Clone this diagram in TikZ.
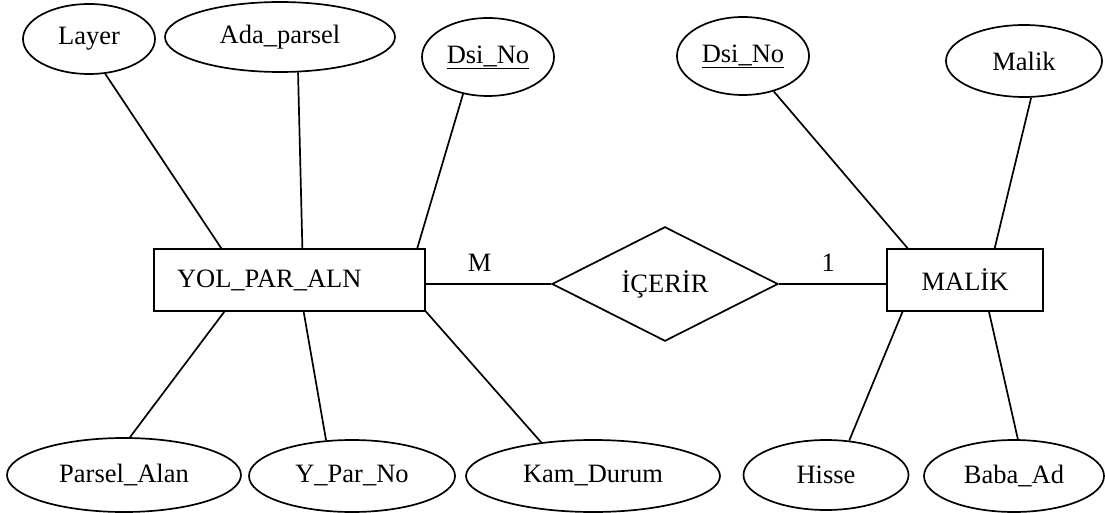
\documentclass[tikz,border=0pt]{standalone}
\usepackage{fontspec}
\setmainfont{Liberation Serif}
\usetikzlibrary{shapes.geometric}

\begin{document}
\begin{tikzpicture}[x=1pt, y=-1pt, line width=1.7pt,
        font=\fontsize{26.5}{30}\selectfont,
        attr/.style={ellipse, draw, inner sep=0pt},
        entity/.style={rectangle, draw, inner sep=0pt},
        rel/.style={diamond, draw, inner sep=0pt},
        card/.style={inner sep=0pt, above=12pt}]
        \useasboundingbox (0,0) rectangle (1105,513);

        % Entities and the relation between them:
        \node [entity, minimum width=271pt, minimum height=62pt,
               text width=225pt, align=left, inner xsep=23pt] (yol) at (289.5,280) {YOL\_PAR\_ALN};
        \node [entity, minimum width=156pt, minimum height=62pt] (malikbox) at (965,280) {MALİK};
        \node [rel, minimum width=226pt, minimum height=89pt] (icerir) at (665,284) {İÇERİR};

        % Attributes of YOL_PAR_ALN:
        \node [attr, minimum width=132pt, minimum height=70pt] (layer) at (89,39) {Layer};
        \node [attr, minimum width=230pt, minimum height=70pt] (ada) at (280,37) {Ada\_parsel};
        \node [attr, minimum width=132pt, minimum height=78pt] (dsia) at (488,57) {\underline{Dsi\_No}};
        \node [attr, minimum width=234pt, minimum height=74pt] (parsel) at (124,475) {Parsel\_Alan};
        \node [attr, minimum width=206pt, minimum height=72pt] (ypar) at (352,476) {Y\_Par\_No};
        \node [attr, minimum width=254pt, minimum height=72pt] (kam) at (593,476) {Kam\_Durum};

        % Attributes of MALİK:
        \node [attr, minimum width=132pt, minimum height=78pt] (dsib) at (743,56) {\underline{Dsi\_No}};
        \node [attr, minimum width=156pt, minimum height=72pt] (malik) at (1024,61) {Malik};
        \node [attr, minimum width=165pt, minimum height=70pt] (hisse) at (826,475) {Hisse};
        \node [attr, minimum width=180pt, minimum height=72pt] (baba) at (1014,476) {Baba\_Ad};

        % Relation lines with cardinalities:
        \draw (icerir.west -| yol.east) -- node [card, pos=0.43] {M} (icerir.west);
        \draw (icerir.east) -- node [card, pos=0.46] {1} (icerir.east -| malikbox.west);

        % Attribute lines:
        \draw (layer.-65) -- (yol.155);
        \draw (ada.-63) -- (yol.68);
        \draw (dsia.-124) -- (yol.14);
        \draw (yol.-154) -- (parsel.81);
        \draw (yol.-66) -- (ypar.126);
        \draw (yol.-13) -- (kam.147);

        \draw (dsib.-49) -- (malikbox.151);
        \draw (malik.-79) -- (malikbox.47);
        \draw (malikbox.-153) -- (hisse.56);
        \draw (malikbox.-53) -- (baba.84);
\end{tikzpicture}
\end{document}
